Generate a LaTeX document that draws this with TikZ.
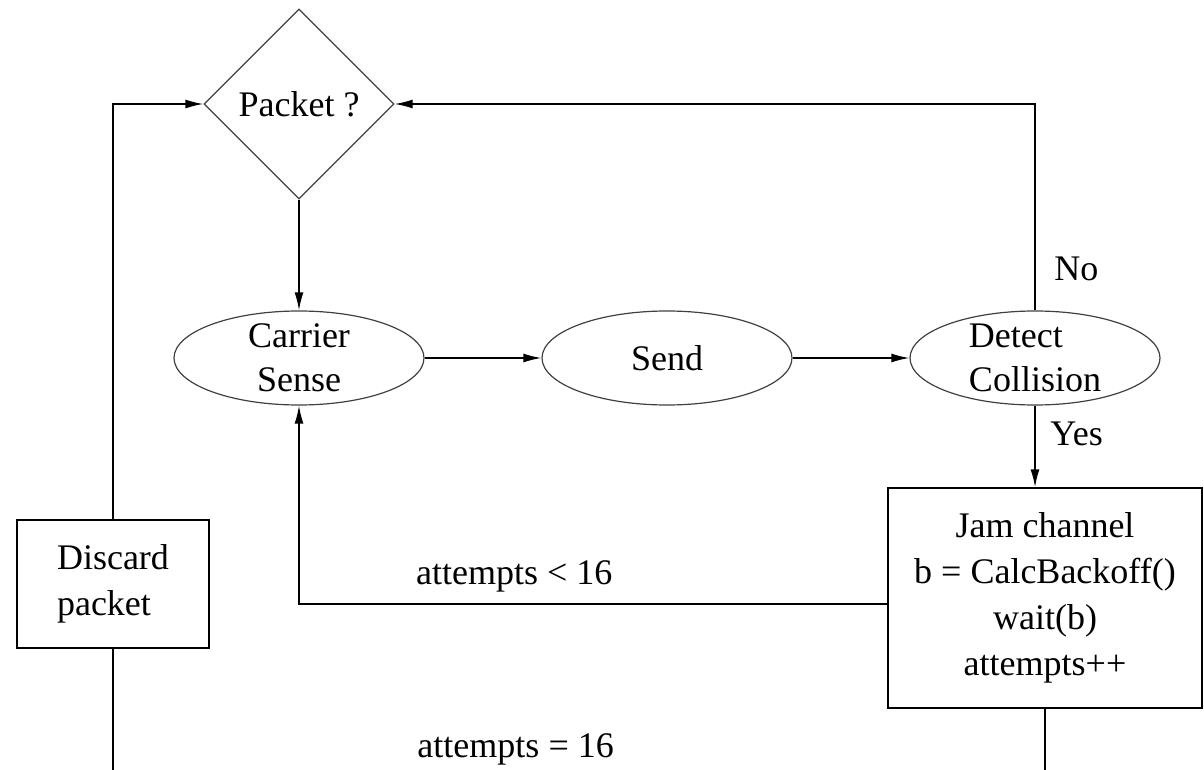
\documentclass[tikz,border=0pt]{standalone}
\usepackage{fontspec}
\setmainfont{Liberation Serif}
\usepackage{tikz}
\usetikzlibrary{arrows.meta,positioning,shapes.geometric}

\begin{document}
\begin{tikzpicture}[
		x=0.5pt, y=-0.5pt,
		->,
		>={Latex[length=9pt,width=4.5pt]},
		line width=0.8pt,
		node distance=184pt,
		font=\fontsize{18}{22}\selectfont,
		test/.style={diamond, draw=black!75, line width=0.6pt, minimum width=95pt, minimum height=95pt, inner sep=0pt},
		state/.style={ellipse, draw=black!75, line width=0.6pt, minimum width=125pt, minimum height=47pt, inner xsep=0pt, inner ysep=-2pt, align=center},
		action/.style={rectangle, draw, line width=0.7pt, align=center, font=\fontsize{18}{23}\selectfont}
	  ]

	  \clip (0,0) rectangle (1204,770);

	  \node[test] (pkt) at (299,104) 		{Packet ?};
	  \node[state] (cs) at (299,358) 		{Carrier\\Sense};
	  \node[state] (send) [right of=cs] 	{Send};
	  \node[state, align=left] (cd) [right of=send] {Detect\\Collision};
	  \node[action, minimum width=157pt, minimum height=110pt] (jam) at (1045,598)
	  		{Jam channel\\b = CalcBackoff()\\wait(b)\\attempts++};
	  \node[action, align=left, minimum width=96pt, minimum height=64pt] (drop) at (113,584)
	  		{Discard\\packet};

	  \draw (pkt) -- (cs);
	  \draw (cs) -- (send);
	  \draw (send) -- (cd);
	  \draw (cd.north) |- node[pos=0.1, right=6pt] {No} (pkt.east);
	  \draw (cd.south) -- node[pos=0.35, right=4pt] {Yes} (cd.south |- jam.north);
	  \draw ([yshift=-3pt]jam.west) -| node[pos=0.317, above=2pt] {attempts < 16} (cs.south);
	  \draw[-] (jam.south) -- ++(0,68) -| node[pos=0.284, above=2pt] {attempts = 16} (drop.south);
	  \draw (drop.north) |- (pkt.west);

\end{tikzpicture}
\end{document}
